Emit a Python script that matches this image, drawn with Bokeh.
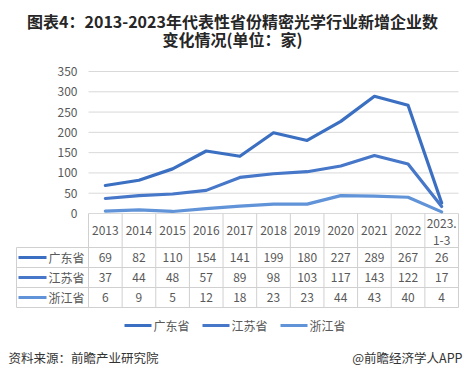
from bokeh.plotting import figure
from bokeh.models import Range1d
from bokeh.embed import file_html
from bokeh.resources import INLINE
from bokeh.core.properties import value

# ---- data ----
years = ["2013", "2014", "2015", "2016", "2017", "2018", "2019", "2020", "2021", "2022", "2023.\n1-3"]
guangdong = [69, 82, 110, 154, 141, 199, 180, 227, 289, 267, 26]
jiangsu = [37, 44, 48, 57, 89, 98, 103, 117, 143, 122, 17]
zhejiang = [6, 9, 5, 12, 18, 23, 23, 44, 43, 40, 4]
series_names = ["广东省", "江苏省", "浙江省"]
y_ticks = [0, 50, 100, 150, 200, 250, 300, 350]
title_lines = ["图表4：2013-2023年代表性省份精密光学行业新增企业数", "变化情况(单位：家)"]
source_text = "资料来源：前瞻产业研究院"
brand_text = "@前瞻经济学人APP"

# ---- layout (page pixels) ----
W, H = 464, 379
OX, OY = 0, 0
PLOT_L, PLOT_R = 88, 458
Y0_PX, YTOP_PX = 213, 71
ncol = len(years)
colw = (PLOT_R - PLOT_L) / ncol
ppu = (Y0_PX - YTOP_PX) / y_ticks[-1]


def X(px):
    return -0.5 + (px - PLOT_L) / colw


def Y(py):
    return (Y0_PX - py) / ppu


FONT = value("Noto Sans CJK SC")
colors = ["#3b6fc2", "#4677c8", "#6193d8"]
series = [guangdong, jiangsu, zhejiang]

p = figure(width=W, height=H,
           x_range=Range1d(X(OX), X(OX + W)), y_range=Range1d(Y(OY + H), Y(OY)),
           output_backend="svg", toolbar_location=None, min_border=0,
           x_axis_location=None, y_axis_location=None)
p.grid.visible = False
p.outline_line_color = None
p.background_fill_color = "white"
p.border_fill_color = "white"

# gridlines
p.segment(x0=X(PLOT_L), x1=X(PLOT_R), y0=y_ticks, y1=y_ticks, line_color="#d9d9d9", line_width=1)

# y tick labels
p.text(x=X(77), y=y_ticks, text=[str(t) for t in y_ticks], text_font=FONT,
       text_font_size=value("12px"), text_align="right", text_baseline="middle", text_color="#595959")

# lines
xs = list(range(ncol))
for vals, c in zip(series, colors):
    p.line(x=xs, y=vals, line_width=3.2, line_color=c, line_join="round", line_cap="round")

# table
row_tops = [247, 267, 287, 307]
border = "#d0d0d0"
bounds = [i - 0.5 for i in range(ncol + 1)]
p.segment(x0=bounds, x1=bounds, y0=0, y1=Y(row_tops[-1]), line_color=border, line_width=1)
p.segment(x0=X(16), x1=X(16), y0=Y(row_tops[0]), y1=Y(row_tops[-1]), line_color=border, line_width=1)
p.segment(x0=X(16), x1=X(PLOT_R), y0=[Y(r) for r in row_tops], y1=[Y(r) for r in row_tops],
          line_color=border, line_width=1)

# header labels
p.text(x=xs, y=Y(230), text=years, text_font=FONT, text_font_size=value("12px"),
       text_align="center", text_baseline="middle", text_color="#595959", text_line_height=1.0)

row_centers = [257, 277, 297]
for name, vals, c, rc in zip(series_names, series, colors, row_centers):
    p.segment(x0=X(18), x1=X(46), y0=Y(rc), y1=Y(rc), line_color=c, line_width=3.2)
    p.text(x=X(48), y=Y(rc), text=[name], text_font=FONT, text_font_size=value("12px"),
           text_align="left", text_baseline="middle", text_color="#595959")
    p.text(x=xs, y=Y(rc), text=[str(v) for v in vals], text_font=FONT, text_font_size=value("12px"),
           text_align="center", text_baseline="middle", text_color="#595959")

# legend
leg_x = [124, 202, 280]
for name, c, lx in zip(series_names, colors, leg_x):
    p.segment(x0=X(lx), x1=X(lx + 27), y0=Y(325), y1=Y(325), line_color=c, line_width=3.2)
    p.text(x=X(lx + 29), y=Y(325), text=[name], text_font=FONT, text_font_size=value("12px"),
           text_align="left", text_baseline="middle", text_color="#595959")

# title
p.text(x=X(232), y=[Y(20), Y(38)], text=title_lines, text_font=FONT, text_font_size=value("16px"),
       text_font_style="bold", text_align="center", text_baseline="middle", text_color="#262626")

# footer
p.text(x=X(8), y=Y(357), text=[source_text], text_font=FONT, text_font_size=value("12.5px"),
       text_align="left", text_baseline="middle", text_color="#333333")
p.text(x=X(462), y=Y(357), text=[brand_text], text_font=FONT, text_font_size=value("12.5px"),
       text_align="right", text_baseline="middle", text_color="#333333")

open("out.html", "w").write(file_html(p, INLINE))
